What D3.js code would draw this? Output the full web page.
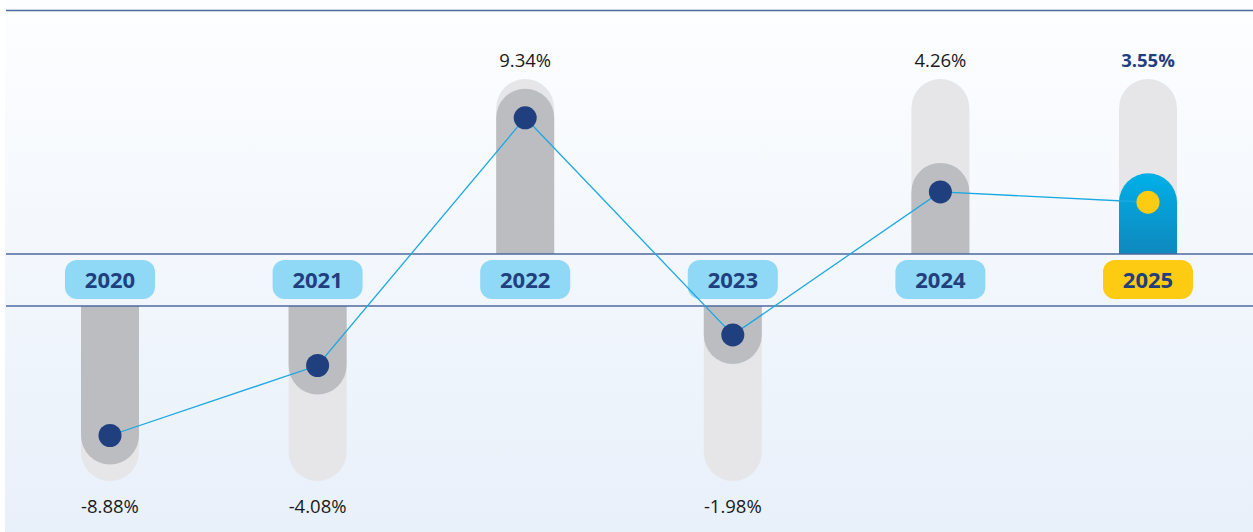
<!DOCTYPE html>
<html>
<head>
<meta charset="utf-8">
<script src="https://cdn.jsdelivr.net/npm/d3@7"></script>
<style>
  body { margin: 0; background: #fff; }
  svg { display: block; }
</style>
</head>
<body>
<script>
var years = ["2020", "2021", "2022", "2023", "2024", "2025"];
var values = [-8.88, -4.08, 9.34, -1.98, 4.26, 3.55];
var highlight = ["2025"];
var trackMax = 12;

var w = 1253;
var h = 532;
var barW = 58;
var r = barW / 2;
var topBase = 254;   // upper band line (positive bars sit on it)
var botBase = 306;   // lower band line (negative bars hang from it)

var svg = d3.select("body").append("svg").attr("width", w).attr("height", h);

var defs = svg.append("defs");
var bg = defs.append("linearGradient").attr("id", "bg").attr("x1", 0).attr("y1", 0).attr("x2", 0).attr("y2", 1);
bg.append("stop").attr("offset", "0%").attr("stop-color", "#fdfeff");
bg.append("stop").attr("offset", "100%").attr("stop-color", "#e8f0fa");
var blue = defs.append("linearGradient").attr("id", "blueBar").attr("x1", 0).attr("y1", 0).attr("x2", 0).attr("y2", 1);
blue.append("stop").attr("offset", "0%").attr("stop-color", "#00b0e8");
blue.append("stop").attr("offset", "100%").attr("stop-color", "#0f88bd");

svg.append("rect").attr("x", 5).attr("y", 0).attr("width", w - 5).attr("height", h).attr("fill", "url(#bg)");

var xScale = d3.scalePoint().domain(years).range([110, 1148]);
var yScale = d3.scaleLinear().domain([0, trackMax]).range([0, 175]);

// y position of a value (distance from the matching band line)
function yPos(v) {
    return v >= 0 ? topBase - yScale(v) : botBase + yScale(-v);
}

// pill shaped bar from the band line to y, with round cap of radius r
function pill(x, base, y) {
    var up = y < base;
    return "M" + (x - r) + "," + base +
        "L" + (x - r) + "," + y +
        "A" + r + "," + r + " 0 0 " + (up ? 1 : 0) + " " + (x + r) + "," + y +
        "L" + (x + r) + "," + base + "Z";
}

var data = years.map((d, i) => ({ year: d, value: values[i], hi: highlight.indexOf(d) >= 0 }));

// light tracks
svg.selectAll("path.track")
    .data(data).enter()
    .append("path")
    .attr("class", "track")
    .attr("d", d => {
        var x = xScale(d.year);
        return d.value >= 0
            ? pill(x, topBase, topBase - yScale(trackMax) + r)
            : pill(x, botBase, botBase + yScale(trackMax) - r);
    })
    .attr("fill", "#e6e6e8");

// value bars
svg.selectAll("path.bar")
    .data(data).enter()
    .append("path")
    .attr("class", "bar")
    .attr("d", d => pill(xScale(d.year), d.value >= 0 ? topBase : botBase, yPos(d.value)))
    .attr("fill", d => d.hi ? "url(#blueBar)" : "#bcbdc0");

// band lines
[10.5, topBase, botBase].forEach(y => {
    svg.append("line")
        .attr("x1", 6).attr("x2", w)
        .attr("y1", y).attr("y2", y)
        .attr("stroke", "#4d6a9e")
        .attr("stroke-width", 1.6);
});

// year pills
var pills = svg.selectAll("g.year")
    .data(data).enter()
    .append("g")
    .attr("class", "year")
    .attr("transform", d => "translate(" + xScale(d.year) + "," + ((topBase + botBase) / 2) + ")");

pills.append("rect")
    .attr("x", -45).attr("y", -20)
    .attr("width", 90).attr("height", 39)
    .attr("rx", 12)
    .attr("fill", d => d.hi ? "#fccb12" : "#8fd8f6");

pills.append("text")
    .text(d => d.year)
    .attr("text-anchor", "middle")
    .attr("y", 8)
    .attr("font-family", "'Open Sans', sans-serif")
    .attr("font-weight", "bold")
    .attr("font-size", "22px")
    .attr("fill", "#1f3f7e");

// connecting line
var line = d3.line().x(d => xScale(d.year)).y(d => yPos(d.value));
svg.append("path")
    .datum(data)
    .attr("d", line)
    .attr("fill", "none")
    .attr("stroke", "#1ba8e2")
    .attr("stroke-width", 1.3);

// dots
svg.selectAll("circle")
    .data(data).enter()
    .append("circle")
    .attr("cx", d => xScale(d.year))
    .attr("cy", d => yPos(d.value))
    .attr("r", 11.5)
    .attr("fill", d => d.hi ? "#fccb12" : "#1f3f7e");

// value labels
svg.selectAll("text.val")
    .data(data).enter()
    .append("text")
    .attr("class", "val")
    .text(d => d.value.toFixed(2) + "%")
    .attr("x", d => xScale(d.year))
    .attr("y", d => d.value >= 0 ? 67 : 513)
    .attr("text-anchor", "middle")
    .attr("font-family", "'Open Sans', sans-serif")
    .attr("font-size", "18.5px")
    .attr("font-weight", d => d.hi ? "bold" : "normal")
    .attr("fill", d => d.hi ? "#1f3f7e" : "#1a1a1a");
</script>
</body>
</html>
